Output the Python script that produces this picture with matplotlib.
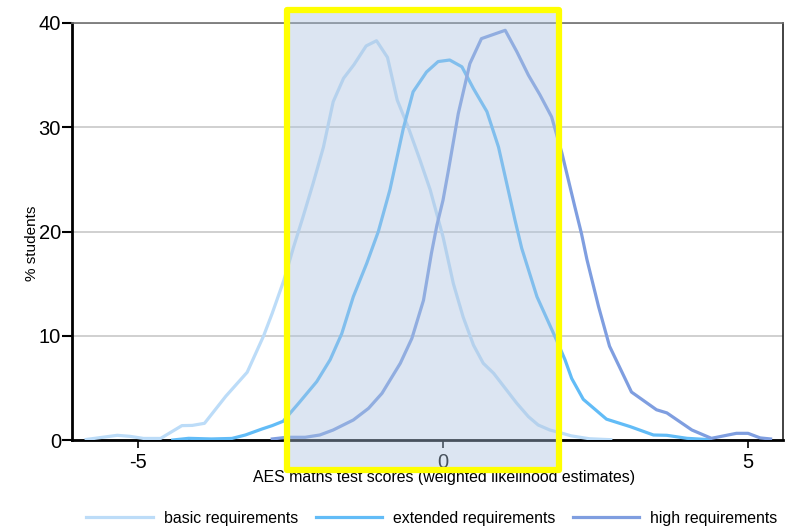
import matplotlib
matplotlib.use("Agg")
import matplotlib.pyplot as plt
from matplotlib.patches import Rectangle

plt.rcParams['font.family'] = ['Liberation Sans', 'DejaVu Sans']

# ---- data ----
basic_x = [-5.85, -5.34, -5.13, -4.91, -4.63, -4.28, -4.11, -3.91, -3.56, -3.21, -2.94,
           -2.80, -2.61, -2.45, -2.30, -2.13, -1.96, -1.80, -1.63, -1.46, -1.26, -1.09,
           -0.91, -0.75, -0.57, -0.38, -0.21, 0.00, 0.17, 0.33, 0.50, 0.66, 0.83, 1.02,
           1.21, 1.40, 1.56, 1.75, 1.92, 2.10, 2.40, 2.75]
basic_y = [0.05, 0.45, 0.35, 0.15, 0.15, 1.38, 1.40, 1.60, 4.20, 6.50, 10.0,
           12.15, 15.3, 18.5, 21.3, 24.6, 28.1, 32.45, 34.7, 36.0, 37.8, 38.3,
           36.7, 32.6, 30.0, 26.9, 24.0, 19.5, 15.0, 11.8, 9.1, 7.36, 6.4, 4.96,
           3.52, 2.24, 1.44, 0.96, 0.70, 0.40, 0.12, 0.03]

ext_x = [-4.43, -4.17, -3.80, -3.46, -3.24, -2.97, -2.80, -2.62, -2.37, -2.07, -1.85,
         -1.66, -1.47, -1.25, -1.06, -0.87, -0.65, -0.49, -0.27, -0.08, 0.11, 0.31,
         0.50, 0.72, 0.91, 1.18, 1.29, 1.54, 1.86, 2.00, 2.11, 2.30, 2.68, 3.07,
         3.45, 3.67, 4.00, 4.38]
ext_y = [0.0, 0.16, 0.10, 0.15, 0.48, 1.05, 1.38, 1.80, 3.5, 5.6, 7.7,
         10.2, 13.75, 16.95, 20.0, 24.0, 29.9, 33.4, 35.3, 36.3, 36.45, 35.8,
         33.7, 31.5, 28.1, 21.1, 18.4, 13.75, 9.6, 7.7, 5.9, 3.9, 2.0, 1.28,
         0.48, 0.45, 0.16, 0.03]

high_x = [-2.80, -2.56, -2.26, -2.02, -1.80, -1.47, -1.22, -1.00, -0.70, -0.51, -0.32,
          -0.19, -0.10, 0.00, 0.09, 0.25, 0.44, 0.63, 1.02, 1.21, 1.40, 1.59,
          1.78, 1.95, 2.16, 2.27, 2.36, 2.55, 2.73, 3.09, 3.50, 3.67, 4.08, 4.40,
          4.81, 5.00, 5.20, 5.37]
high_y = [0.10, 0.26, 0.26, 0.48, 0.96, 1.92, 3.04, 4.48, 7.36, 9.75, 13.4,
          17.9, 20.6, 23.0, 25.9, 31.3, 36.1, 38.5, 39.3, 37.25, 35.0, 33.1,
          31.0, 27.5, 22.4, 19.8, 17.3, 12.8, 9.0, 4.6, 2.9, 2.6, 0.96, 0.16,
          0.64, 0.64, 0.20, 0.10]

series_labels = ['basic requirements', 'extended requirements', 'high requirements']
series_colors = ['#bcdcf8', '#62bcf7', '#7f9ee0']
y_ticks = [0, 10, 20, 30, 40]
x_ticks = [-5, 0, 5]

# ---- figure ----
fig = plt.figure(figsize=(7.86, 5.26), dpi=100)
ax = fig.add_axes([72/786, 1-440/526, (783-72)/786, (440-23)/526])

for xs, ys, lab, col in zip([basic_x, ext_x, high_x], [basic_y, ext_y, high_y],
                            series_labels, series_colors):
    ax.plot(xs, ys, color=col, lw=2.3, label=lab, zorder=3)

ax.set_xlim((72-443)/61, (783-443)/61)
ax.set_ylim(0, 40)
ax.set_yticks(y_ticks)
ax.set_xticks(x_ticks)
ax.set_xticklabels([str(t) for t in x_ticks], fontsize=14.5)
ax.set_yticklabels([str(t) for t in y_ticks], fontsize=14.5)
ax.tick_params(axis='y', length=7, width=1.5, pad=1)
ax.tick_params(axis='x', length=6, width=1.2, pad=3)
ax.yaxis.grid(True, color='#c8c8c8', lw=1.2, zorder=0)
ax.set_axisbelow(True)

ax.spines['left'].set_linewidth(2.0)
ax.spines['bottom'].set_linewidth(2.0)
ax.spines['top'].set_color('#707070')
ax.spines['top'].set_linewidth(1.2)
ax.spines['right'].set_color('#222222')
ax.spines['right'].set_linewidth(1.2)

ax.set_ylabel('% students', fontsize=11)
ax.yaxis.set_label_coords(-0.0464, 0.472)
ax.set_xlabel('AES maths test scores (weighted likelihood estimates)', fontsize=11.4)
ax.xaxis.set_label_coords(0.523, -0.072)

leg = fig.legend(loc='center', bbox_to_anchor=(432/786, 1-518/526), ncol=3, frameon=False,
                 fontsize=11.4, handlelength=4.2, handletextpad=0.7, columnspacing=1.1)

# highlight overlay
W, H = 786, 526
x0, x1, y0, y1 = 287, 559, 10, 470
fig.add_artist(Rectangle((x0/W, 1-y1/H), (x1-x0)/W, (y1-y0)/H, transform=fig.transFigure,
                         facecolor='#acc3e0', alpha=0.42, edgecolor='none', zorder=10))
fig.add_artist(Rectangle((x0/W, 1-y1/H), (x1-x0)/W, (y1-y0)/H, transform=fig.transFigure,
                         facecolor='none', edgecolor='#ffff00', lw=4.5, zorder=11,
                         joinstyle='round'))

fig.savefig('out.png', dpi=100)
